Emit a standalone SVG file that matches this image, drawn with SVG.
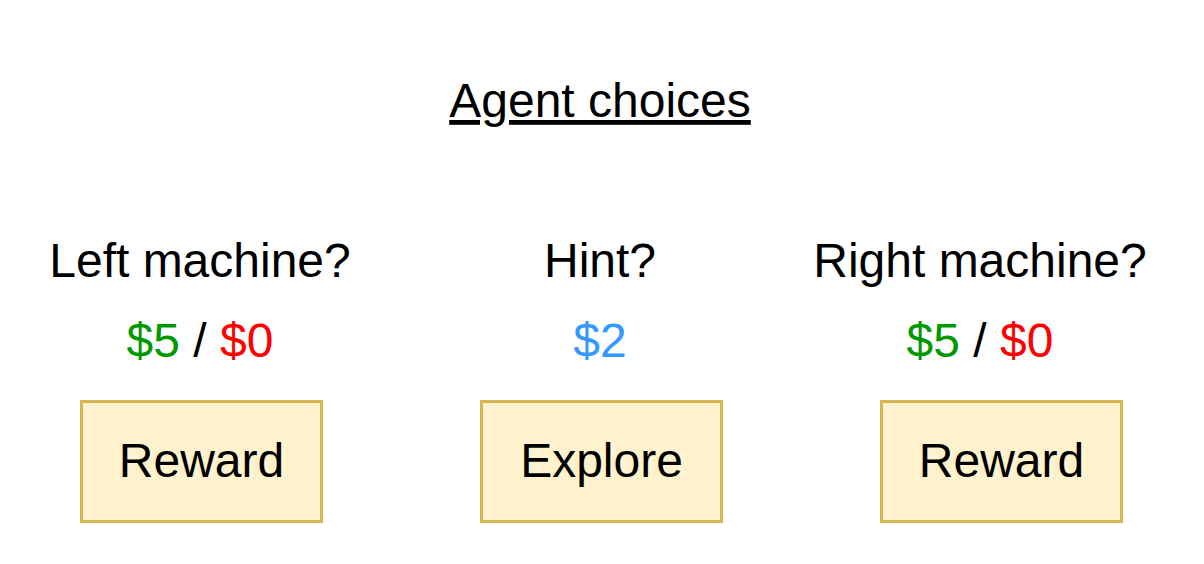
<svg xmlns="http://www.w3.org/2000/svg" width="1204" height="564" viewBox="0 0 1204 564">
<style>
text{font-family:"Liberation Sans",Arial,sans-serif;font-size:48px;fill:#000;text-anchor:middle}
.box{fill:#fff2cc;stroke:#d6b656;stroke-width:3}
.g{fill:#009900}.r{fill:#ff0000}.b{fill:#3399ff}
</style>
<rect width="1204" height="564" fill="#fff"/>
<g id="title"><text x="600" y="117" text-decoration="underline">Agent choices</text></g>
<g id="left">
<text x="200" y="277">Left machine?</text>
<text x="200" y="357"><tspan class="g">$5</tspan> / <tspan class="r">$0</tspan></text>
<rect class="box" x="81.5" y="401.5" width="240" height="120"/>
<text x="201.5" y="477">Reward</text>
</g>
<g id="middle">
<text x="600" y="277">Hint?</text>
<text x="600" y="357" class="b">$2</text>
<rect class="box" x="481.5" y="401.5" width="240" height="120"/>
<text x="601.5" y="477">Explore</text>
</g>
<g id="right">
<text x="980" y="277">Right machine?</text>
<text x="980" y="357"><tspan class="g">$5</tspan> / <tspan class="r">$0</tspan></text>
<rect class="box" x="881.5" y="401.5" width="240" height="120"/>
<text x="1001.5" y="477">Reward</text>
</g>
<g id="connectors"/>
</svg>
